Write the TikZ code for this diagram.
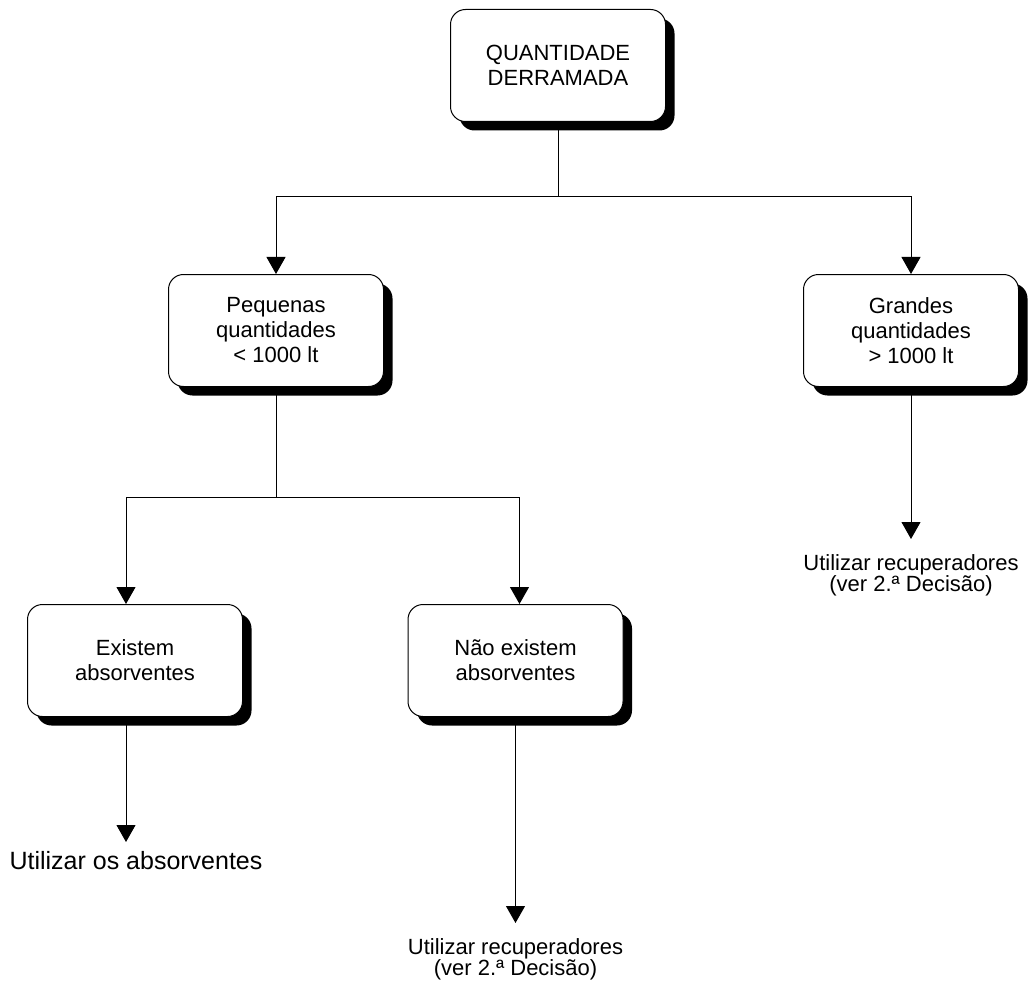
\documentclass[tikz,border=0pt]{standalone}
\usepackage{fontspec}
\setmainfont{Liberation Sans}
\usepackage{tikz}
\usetikzlibrary{arrows.meta,shadows,positioning}

\begin{document}
\begin{tikzpicture}[
    x=1pt,y=-1pt,
    box/.style={
      draw,
      line width=1pt,
      rounded corners=15pt,
      fill=white,
      align=center,
      minimum width=215pt,
      minimum height=112pt,
      font=\fontsize{22}{25}\selectfont,
      drop shadow={shadow xshift=9pt,shadow yshift=-9pt,fill=black,opacity=1}
    },
    leaf/.style={
      align=center,
      inner xsep=0pt,
      inner ysep=15pt,
      anchor=north,
      font=\fontsize{22}{21}\selectfont
    },
    conn/.style={
      draw,
      line width=1pt,
      -{Triangle[width=19pt,length=17pt]}
    }
    ]
    \useasboundingbox (0,0) rectangle (1031,987);

    \node[box] (qty) at (558,65.5)
      {QUANTIDADE\\DERRAMADA};
    \node[box] (small) at (276,330.5)
      {Pequenas\\quantidades\\< 1000 lt};
    \node[box] (large) at (911,330.5)
      {Grandes\\quantidades\\> 1000 lt};
    \node[box] (has) at (135,660.5)
      {Existem\\absorventes};
    \node[box] (hasnot) at (515.5,660.5)
      {Não existem\\absorventes};

    \node[leaf,inner ysep=9pt,font=\fontsize{25}{28}\selectfont] (useabs) at (136,842)
      {Utilizar os absorventes};
    \node[leaf] (userec1) at (515.5,923)
      {Utilizar recuperadores\\(ver 2.ª Decisão)};
    \node[leaf] (userec2) at (911,539)
      {Utilizar recuperadores\\(ver 2.ª Decisão)};

    \coordinate (j1) at (qty.south |- 0,197);
    \coordinate (j2) at (small.south |- 0,497);

    \draw[conn] (qty.south) -- (j1) -| (small.north);
    \draw[conn] (j1) -| (large.north);
    \draw[conn] (small.south) -- (j2) -| ([xshift=-9pt]has.north);
    \draw[conn] (j2) -| ([xshift=4pt]hasnot.north);
    \draw[conn] ([xshift=-9pt]has.south) -- ([xshift=-9pt]has.south |- useabs.north);
    \draw[conn] (hasnot.south) -- (userec1.north);
    \draw[conn] (large.south) -- (userec2.north);
\end{tikzpicture}
\end{document}
